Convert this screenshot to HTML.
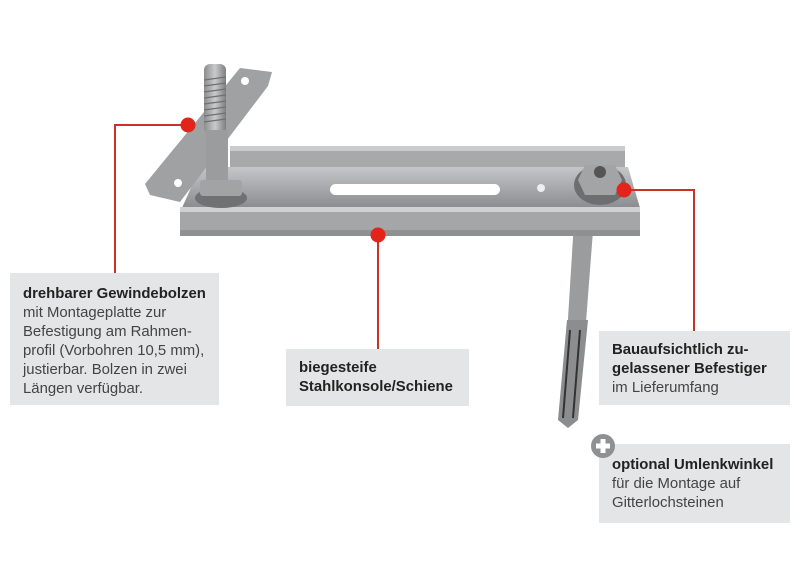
<!DOCTYPE html>
<html><head><meta charset="utf-8"><style>
body{margin:0;width:800px;height:578px;background:#fff;position:relative;overflow:hidden;font-family:"Liberation Sans",sans-serif;}
.box{position:absolute;background:#e4e5e6;color:#444;font-size:14.9px;line-height:19px;box-sizing:border-box;white-space:nowrap;}
.box b{color:#222;}
svg{position:absolute;left:0;top:0;}
</style></head><body>
<svg width="800" height="578">
<defs>
<linearGradient id="m" x1="0" y1="0" x2="0" y2="1"><stop offset="0" stop-color="#c4c6c8"/><stop offset="1" stop-color="#8a8d90"/></linearGradient>
<linearGradient id="h" x1="0" y1="0" x2="1" y2="0"><stop offset="0" stop-color="#8a8c8e"/><stop offset=".5" stop-color="#c8cacc"/><stop offset="1" stop-color="#7c7e80"/></linearGradient>
</defs>
<polygon points="575,205 595,205 585,335 567,335" fill="#9b9c9e"/>
<polygon points="567,320 588,320 578,420 568,428 558,420" fill="#8c8d8f"/>
<line x1="570" y1="330" x2="563" y2="418" stroke="#333" stroke-width="2"/>
<line x1="580" y1="330" x2="573" y2="418" stroke="#333" stroke-width="2"/>
<polygon points="230,146 625,146 625,167 230,167" fill="#a7a9ab"/>
<rect x="230" y="146" width="395" height="5" fill="#c9cbcd"/>
<polygon points="200,167 628,167 640,208 182,208" fill="url(#m)"/>
<rect x="330" y="184" width="170" height="11" rx="5.5" fill="#fff"/>
<circle cx="541" cy="188" r="4" fill="#eee"/>
<rect x="180" y="207" width="460" height="29" fill="#a4a6a8"/>
<rect x="180" y="207" width="460" height="5" fill="#cfd1d3"/>
<rect x="180" y="230" width="460" height="6" fill="#8e9092"/>
<polygon points="240,68 272,72 268,86 180,202 150,195 145,184" fill="#9fa1a3"/>
<circle cx="245" cy="81" r="4" fill="#fff"/><circle cx="178" cy="183" r="4" fill="#fff"/>
<rect x="204" y="64" width="22" height="70" rx="6" fill="url(#h)"/>
<g stroke="#6e7072" stroke-width="1.2">
<line x1="204" y1="80" x2="226" y2="77"/><line x1="204" y1="86" x2="226" y2="83"/><line x1="204" y1="92" x2="226" y2="89"/><line x1="204" y1="98" x2="226" y2="95"/><line x1="204" y1="104" x2="226" y2="101"/><line x1="204" y1="110" x2="226" y2="107"/><line x1="204" y1="116" x2="226" y2="113"/><line x1="204" y1="122" x2="226" y2="119"/></g>
<rect x="206" y="130" width="22" height="60" fill="#9a9c9e"/>
<ellipse cx="221" cy="198" rx="26" ry="10" fill="#6f7173"/>
<rect x="200" y="180" width="42" height="16" rx="3" fill="#a1a3a5"/>
<ellipse cx="600" cy="185" rx="26" ry="20" fill="#6c6e70"/>
<polygon points="585,165 615,165 622,180 615,195 585,195 578,180" fill="#a2a4a6"/>
<circle cx="600" cy="172" r="6" fill="#555"/>
<g stroke="#c8322a" stroke-width="2" fill="none">
<polyline points="188,125 115,125 115,273"/>
<line x1="378" y1="235" x2="378" y2="349"/>
<polyline points="624,190 694,190 694,331"/>
</g>
<g fill="#e3241b"><circle cx="188" cy="125" r="7.5"/><circle cx="378" cy="235" r="7.5"/><circle cx="624" cy="190" r="7.5"/></g>
</svg>
<div class="box" style="left:10px;top:273px;width:209px;height:132px;padding:12px 0 0 13px;"><b>drehbarer Gewindebolzen</b><br>mit Montageplatte zur<br>Befestigung am Rahmen-<br>profil (Vorbohren 10,5 mm),<br>justierbar. Bolzen in zwei<br>Längen verfügbar.</div>
<div class="box" style="left:286px;top:349px;width:183px;height:57px;padding:10px 0 0 13px;"><b>biegesteife<br>Stahlkonsole/Schiene</b></div>
<div class="box" style="left:599px;top:331px;width:191px;height:74px;padding:10px 0 0 13px;"><b>Bauaufsichtlich zu-<br>gelassener Befestiger</b><br>im Lieferumfang</div>
<div class="box" style="left:599px;top:444px;width:191px;height:79px;padding:12px 0 0 13px;"><b>optional Umlenkwinkel</b><br>für die Montage auf<br>Gitterlochsteinen</div>
<svg width="800" height="578" style="pointer-events:none"><circle cx="603" cy="446" r="12" fill="#8e9092"/><rect x="596" y="443.5" width="14" height="5" fill="#fff"/><rect x="600.5" y="439" width="5" height="14" fill="#fff"/></svg>
</body></html>
